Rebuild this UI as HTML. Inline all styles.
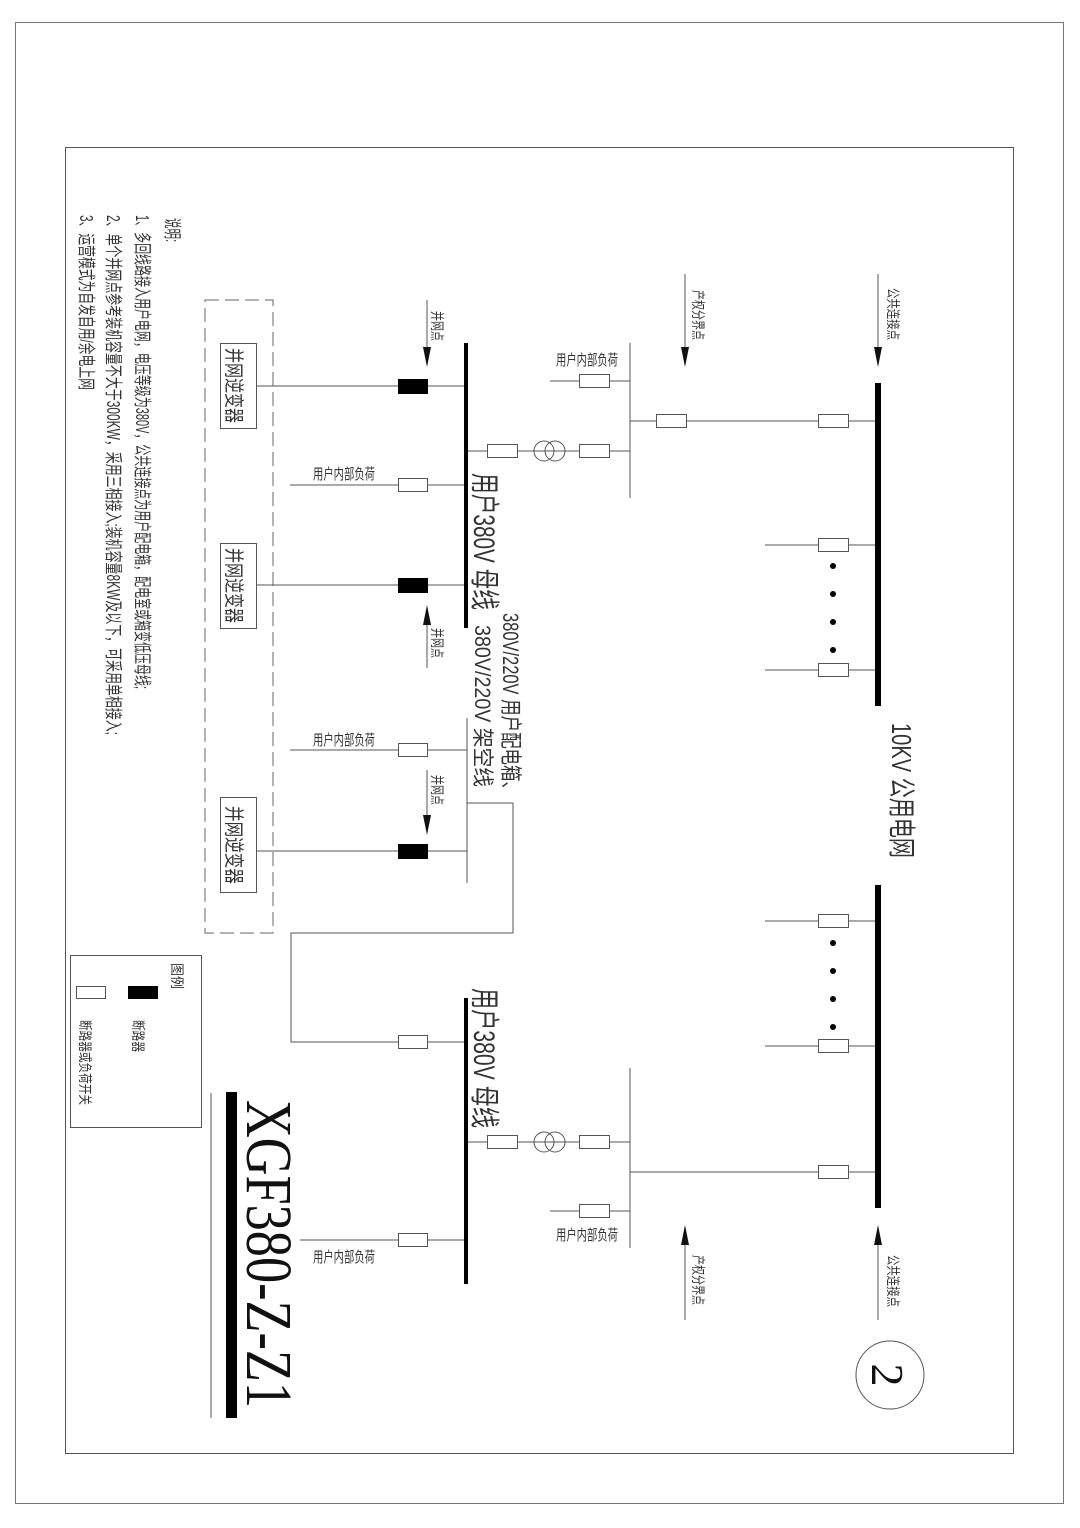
<!DOCTYPE html>
<html><head><meta charset="utf-8"><style>
html,body{margin:0;padding:0;background:#fff;}
svg{display:block;}
text{font-family:"Liberation Sans","Noto Sans CJK SC",sans-serif;fill:#333;}
.s{font-family:"Liberation Serif","Noto Serif CJK SC",serif;}
</style></head><body>
<svg width="1080" height="1528" viewBox="0 0 1080 1528" xmlns="http://www.w3.org/2000/svg">
<rect x="15.5" y="22.5" width="1048" height="1481" fill="none" stroke="#777" stroke-width="1"/>
<rect x="65.5" y="147.5" width="948" height="1306" fill="none" stroke="#555" stroke-width="1"/>

<!-- notes -->
<g font-size="18">
<text transform="translate(166,218) rotate(90)" textLength="24" lengthAdjust="spacingAndGlyphs">说明:</text>
<text transform="translate(136,215) rotate(90)" textLength="474" lengthAdjust="spacingAndGlyphs">1、多回线路接入用户电网，电压等级为380V，公共连接点为用户配电箱，配电室或箱变低压母线;</text>
<text transform="translate(107,215) rotate(90)" textLength="520" lengthAdjust="spacingAndGlyphs">2、单个并网点参考装机容量不大于300KW，采用三相接入;装机容量8KW及以下，可采用单相接入;</text>
<text transform="translate(80,215) rotate(90)" textLength="175" lengthAdjust="spacingAndGlyphs">3、运营模式为自发自用/余电上网</text>
</g>

<!-- dashed box -->
<rect x="205" y="300" width="68" height="633" fill="none" stroke="#666" stroke-width="1" stroke-dasharray="14,6"/>

<g stroke="#555" stroke-width="1" fill="none">
<!-- inverter lines -->
<line x1="256" y1="386" x2="466" y2="386"/>
<line x1="256" y1="585" x2="466" y2="585"/>
<line x1="256" y1="851" x2="467" y2="851"/>
<!-- loads -->
<line x1="290" y1="485" x2="466" y2="485"/>
<line x1="290" y1="750" x2="467" y2="750"/>
<!-- thin bus continuation -->
<line x1="467" y1="718" x2="467" y2="883"/>
<!-- interconnection -->
<polyline points="467,803 513,803 513,933 291,933 291,1042 466,1042"/>
<line x1="300" y1="1240" x2="466" y2="1240"/>
<!-- transformer branches -->
<line x1="466" y1="451" x2="630" y2="451"/>
<line x1="630" y1="343" x2="630" y2="498"/>
<line x1="550" y1="381" x2="630" y2="381"/>
<line x1="630" y1="421" x2="878" y2="421"/>
<line x1="466" y1="1142" x2="630" y2="1142"/>
<line x1="630" y1="1068" x2="630" y2="1248"/>
<line x1="550" y1="1211" x2="630" y2="1211"/>
<line x1="630" y1="1172" x2="878" y2="1172"/>
<!-- 10kV feeders -->
<line x1="765" y1="545" x2="878" y2="545"/>
<line x1="765" y1="670" x2="878" y2="670"/>
<line x1="765" y1="921" x2="878" y2="921"/>
<line x1="765" y1="1046" x2="878" y2="1046"/>
<!-- arrows shafts -->
<line x1="427" y1="300" x2="427" y2="360"/>
<line x1="427" y1="612" x2="427" y2="668"/>
<line x1="427" y1="770" x2="427" y2="828"/>
<line x1="685" y1="274" x2="685" y2="360"/>
<line x1="878" y1="274" x2="878" y2="360"/>
<line x1="685" y1="1232" x2="685" y2="1320"/>
<line x1="878" y1="1232" x2="878" y2="1320"/>
<!-- transformers -->
<circle cx="544" cy="451" r="10"/><circle cx="555" cy="451" r="10"/>
<circle cx="544" cy="1142" r="10"/><circle cx="555" cy="1142" r="10"/>
<circle cx="890" cy="1375" r="34"/>
<!-- legend -->
<rect x="70.5" y="955.5" width="131" height="172"/>
<line x1="211" y1="1093" x2="211" y2="1418"/>
</g>

<!-- arrowheads -->
<g fill="#111">
<polygon points="423,347 431,347 427,367"/>
<polygon points="423,625 431,625 427,605"/>
<polygon points="423,815 431,815 427,835"/>
<polygon points="681,347 689,347 685,367"/>
<polygon points="874,347 882,347 878,367"/>
<polygon points="681,1245 689,1245 685,1225"/>
<polygon points="874,1245 882,1245 878,1225"/>
</g>

<!-- buses -->
<g fill="#000">
<rect x="464" y="343" width="4" height="285"/>
<rect x="464" y="998" width="4" height="286"/>
<rect x="875" y="383" width="6" height="323"/>
<rect x="875" y="885" width="6" height="323"/>
<rect x="226" y="1092" width="11" height="326"/>
<!-- black breakers -->
<rect x="398" y="379" width="30" height="15"/>
<rect x="398" y="578" width="30" height="15"/>
<rect x="398" y="844" width="30" height="15"/>
<rect x="128" y="986" width="30" height="13"/>
<!-- dots -->
<circle cx="833" cy="566" r="3"/><circle cx="833" cy="594" r="3"/><circle cx="833" cy="622" r="3"/><circle cx="833" cy="650" r="3"/>
<circle cx="833" cy="943" r="3"/><circle cx="833" cy="971" r="3"/><circle cx="833" cy="999" r="3"/><circle cx="833" cy="1027" r="3"/>
</g>

<!-- white boxes -->
<g fill="#fff" stroke="#555" stroke-width="1">
<rect x="220.5" y="343.5" width="36" height="85"/>
<rect x="220.5" y="543.5" width="36" height="85"/>
<rect x="220.5" y="797.5" width="36" height="95"/>
<rect x="398.5" y="478.5" width="29" height="13"/>
<rect x="398.5" y="743.5" width="29" height="13"/>
<rect x="398.5" y="1035.5" width="29" height="13"/>
<rect x="398.5" y="1233.5" width="29" height="13"/>
<rect x="487.5" y="444.5" width="30" height="13"/>
<rect x="579.5" y="444.5" width="30" height="13"/>
<rect x="579.5" y="374.5" width="30" height="13"/>
<rect x="656.5" y="414.5" width="30" height="13"/>
<rect x="818.5" y="414.5" width="30" height="13"/>
<rect x="818.5" y="538.5" width="30" height="13"/>
<rect x="818.5" y="663.5" width="30" height="13"/>
<rect x="818.5" y="914.5" width="30" height="13"/>
<rect x="818.5" y="1039.5" width="30" height="13"/>
<rect x="818.5" y="1165.5" width="30" height="13"/>
<rect x="487.5" y="1135.5" width="30" height="13"/>
<rect x="579.5" y="1135.5" width="30" height="13"/>
<rect x="579.5" y="1204.5" width="30" height="13"/>
<rect x="76.5" y="986.5" width="29" height="12"/>
</g>

<!-- inverter labels -->
<g font-size="20">
<text transform="translate(227,348) rotate(90)" textLength="75" lengthAdjust="spacingAndGlyphs">并网逆变器</text>
<text transform="translate(227,548) rotate(90)" textLength="75" lengthAdjust="spacingAndGlyphs">并网逆变器</text>
<text transform="translate(227,806) rotate(90)" textLength="78" lengthAdjust="spacingAndGlyphs">并网逆变器</text>
</g>

<!-- horizontal load labels -->
<g font-size="15">
<text x="313" y="479" textLength="62" lengthAdjust="spacingAndGlyphs">用户内部负荷</text>
<text x="313" y="745" textLength="62" lengthAdjust="spacingAndGlyphs">用户内部负荷</text>
<text x="313" y="1262" textLength="62" lengthAdjust="spacingAndGlyphs">用户内部负荷</text>
<text x="556" y="365" textLength="62" lengthAdjust="spacingAndGlyphs">用户内部负荷</text>
<text x="556" y="1240" textLength="62" lengthAdjust="spacingAndGlyphs">用户内部负荷</text>
</g>

<!-- small rotated labels -->
<g font-size="14">
<text transform="translate(432,311) rotate(90)" textLength="30" lengthAdjust="spacingAndGlyphs">并网点</text>
<text transform="translate(432,628) rotate(90)" textLength="30" lengthAdjust="spacingAndGlyphs">并网点</text>
<text transform="translate(432,775) rotate(90)" textLength="30" lengthAdjust="spacingAndGlyphs">并网点</text>
<text transform="translate(693,290) rotate(90)" textLength="50" lengthAdjust="spacingAndGlyphs">产权分界点</text>
<text transform="translate(888,288) rotate(90)" textLength="52" lengthAdjust="spacingAndGlyphs">公共连接点</text>
<text transform="translate(693,1255) rotate(90)" textLength="50" lengthAdjust="spacingAndGlyphs">产权分界点</text>
<text transform="translate(888,1255) rotate(90)" textLength="52" lengthAdjust="spacingAndGlyphs">公共连接点</text>
<text transform="translate(172,963) rotate(90)" textLength="26" lengthAdjust="spacingAndGlyphs">图例</text>
<text transform="translate(133,1020) rotate(90)" textLength="32" lengthAdjust="spacingAndGlyphs">断路器</text>
<text transform="translate(80,1020) rotate(90)" textLength="85" lengthAdjust="spacingAndGlyphs">断路器或负荷开关</text>
</g>

<!-- bus labels -->
<g>
<text transform="translate(474,473) rotate(90)" font-size="30" textLength="137" lengthAdjust="spacingAndGlyphs">用户380V 母线</text>
<text transform="translate(474,988) rotate(90)" font-size="30" textLength="140" lengthAdjust="spacingAndGlyphs">用户380V 母线</text>
<text transform="translate(503,613) rotate(90)" font-size="22" textLength="185" lengthAdjust="spacingAndGlyphs">380V/220V 用户配电箱、</text>
<text transform="translate(475,625) rotate(90)" font-size="22" textLength="162" lengthAdjust="spacingAndGlyphs">380V/220V 架空线</text>
<text transform="translate(892,723) rotate(90)" font-size="28" textLength="135" lengthAdjust="spacingAndGlyphs">10KV 公用电网</text>
</g>

<!-- title -->
<text class="s" transform="translate(247,1100) rotate(90)" font-size="66" textLength="308" lengthAdjust="spacingAndGlyphs" style="fill:#111">XGF380-Z-Z1</text>
<text class="s" transform="translate(872,1375) rotate(90)" font-size="46" text-anchor="middle" style="fill:#111">2</text>
</svg>
</body></html>
